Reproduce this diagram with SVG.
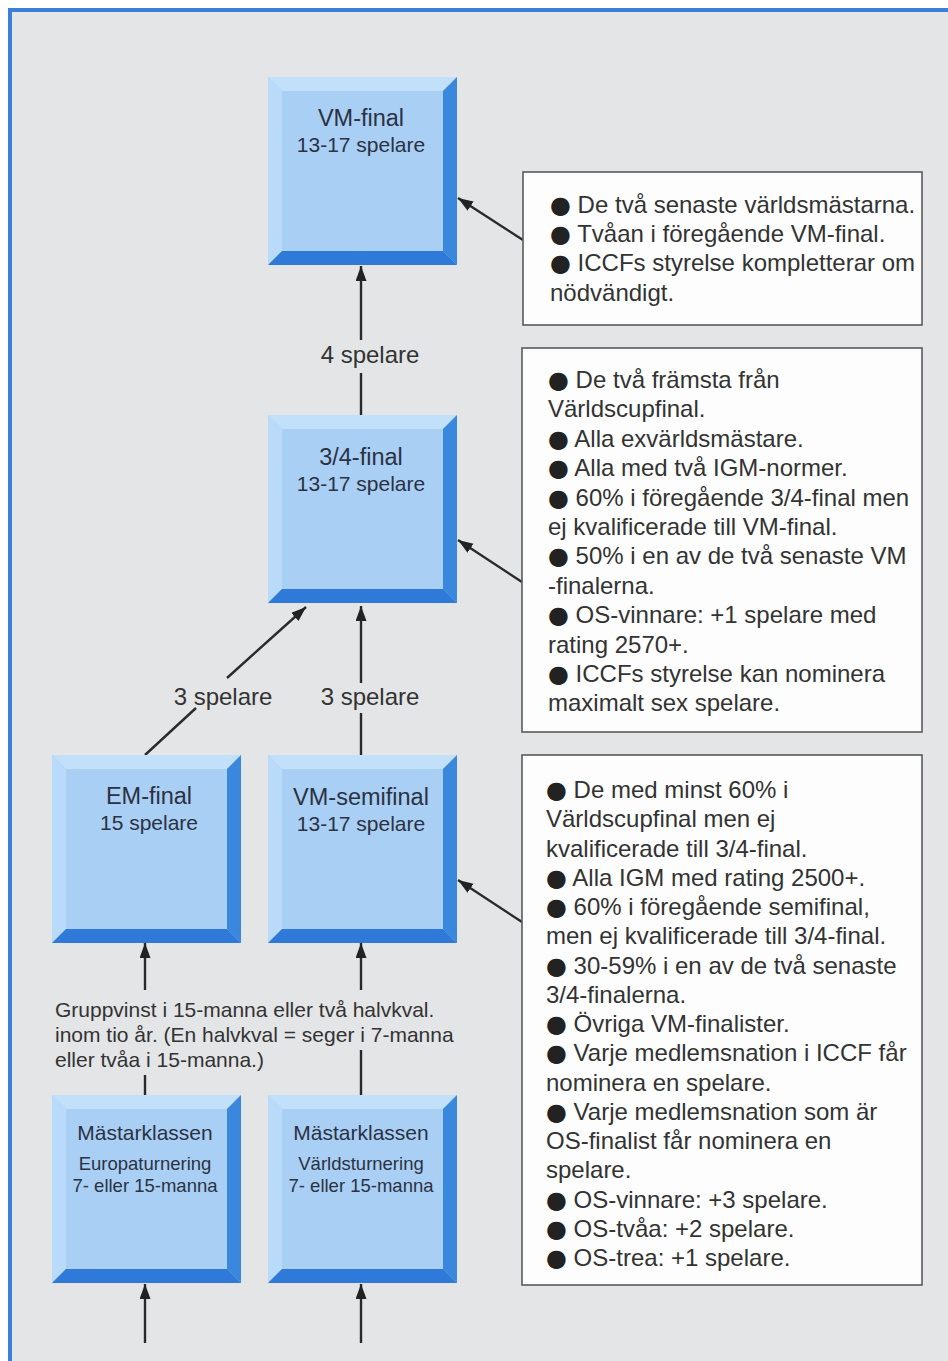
<svg xmlns="http://www.w3.org/2000/svg" xmlns:xlink="http://www.w3.org/1999/xlink" width="948" height="1361" viewBox="0 0 948 1361">
  <defs>
    <style>
      .f { font-family: "Liberation Sans", Arial, sans-serif; }
      .body { font-size: 24px; fill: #333333; }
      .ttl { font-size: 23.5px; fill: #2b3242; text-anchor: middle; }
      .sub { font-size: 21px; fill: #2b3242; text-anchor: middle; }
      .sub2 { font-size: 18.5px; fill: #2b3242; text-anchor: middle; }
      .lbl { font-size: 24px; fill: #333333; }
      .note { font-size: 21px; fill: #333333; }
      .bul { font-family: "DejaVu Sans", sans-serif; font-size: 24px; fill: #222222; }
      .conn { stroke: #2a2a2a; stroke-width: 2.4; fill: none; }
      .tbox { fill: #fdfdfd; stroke: #5a5a5a; stroke-width: 1.6; }
    </style>
    <marker id="ah" markerUnits="userSpaceOnUse" markerWidth="16" markerHeight="12" refX="15" refY="5.5" orient="auto">
      <path d="M0,0 L15,5.5 L0,11 Z" fill="#222222"/>
    </marker>
    <g id="bevel">
      <rect x="0" y="0" width="189" height="188" fill="#a9cff5"/>
      <polygon points="0,0 189,0 175,14 14,14" fill="#c3e0fb"/>
      <polygon points="0,0 14,14 14,174 0,188" fill="#b9daf9"/>
      <polygon points="189,0 189,188 175,174 175,14" fill="#3a87de"/>
      <polygon points="0,188 14,174 175,174 189,188" fill="#2f79d8"/>
    </g>
  </defs>

  <rect x="0" y="0" width="948" height="1361" fill="#ffffff"/>
  <rect x="10" y="10" width="938" height="1351" fill="#e4e5e7"/>
  <path d="M10,1361 V10 H948" stroke="#3b7fd6" stroke-width="4" fill="none"/>

  <g id="connectors">
    <line class="conn" x1="361" y1="340" x2="361" y2="266" marker-end="url(#ah)"/>
    <line class="conn" x1="361" y1="415" x2="361" y2="373"/>
    <line class="conn" x1="361" y1="683" x2="361" y2="606" marker-end="url(#ah)"/>
    <line class="conn" x1="361" y1="755" x2="361" y2="713"/>
    <line class="conn" x1="227" y1="678" x2="306" y2="607" marker-end="url(#ah)"/>
    <line class="conn" x1="145" y1="755" x2="196" y2="708"/>
    <line class="conn" x1="145" y1="990" x2="145" y2="943" marker-end="url(#ah)"/>
    <line class="conn" x1="145" y1="1095" x2="145" y2="1075"/>
    <line class="conn" x1="361" y1="990" x2="361" y2="943" marker-end="url(#ah)"/>
    <line class="conn" x1="361" y1="1095" x2="361" y2="1050"/>
    <line class="conn" x1="145" y1="1343" x2="145" y2="1284" marker-end="url(#ah)"/>
    <line class="conn" x1="361" y1="1343" x2="361" y2="1284" marker-end="url(#ah)"/>
    <line class="conn" x1="523" y1="240" x2="458" y2="198" marker-end="url(#ah)"/>
    <line class="conn" x1="522" y1="582" x2="458" y2="540" marker-end="url(#ah)"/>
    <line class="conn" x1="522" y1="922" x2="458" y2="880" marker-end="url(#ah)"/>
    <text class="f lbl" x="370" y="363" text-anchor="middle">4 spelare</text>
    <text class="f lbl" x="223" y="705" text-anchor="middle">3 spelare</text>
    <text class="f lbl" x="370" y="705" text-anchor="middle">3 spelare</text>
    <text class="f note" x="55" y="1017">Gruppvinst i 15-manna eller två halvkval.</text>
    <text class="f note" x="55" y="1042">inom tio år. (En halvkval = seger i 7-manna</text>
    <text class="f note" x="55" y="1067">eller tvåa i 15-manna.)</text>
  </g>

  <g id="vm-final">
    <use xlink:href="#bevel" x="268" y="77"/>
    <text class="f ttl" x="361" y="126">VM-final</text>
    <text class="f sub" x="361" y="152">13-17 spelare</text>
  </g>
  <g id="tre-fjardedels-final">
    <use xlink:href="#bevel" x="268" y="415"/>
    <text class="f ttl" x="361" y="465">3/4-final</text>
    <text class="f sub" x="361" y="491">13-17 spelare</text>
  </g>
  <g id="em-final">
    <use xlink:href="#bevel" x="52" y="755"/>
    <text class="f ttl" x="149" y="804">EM-final</text>
    <text class="f sub" x="149" y="830">15 spelare</text>
  </g>
  <g id="vm-semifinal">
    <use xlink:href="#bevel" x="268" y="755"/>
    <text class="f ttl" x="361" y="805">VM-semifinal</text>
    <text class="f sub" x="361" y="831">13-17 spelare</text>
  </g>
  <g id="mastarklassen-europa">
    <use xlink:href="#bevel" x="52" y="1095"/>
    <text class="f sub" x="145" y="1140">Mästarklassen</text>
    <text class="f sub2" x="145" y="1170">Europaturnering</text>
    <text class="f sub2" x="145" y="1192">7- eller 15-manna</text>
  </g>
  <g id="mastarklassen-varld">
    <use xlink:href="#bevel" x="268" y="1095"/>
    <text class="f sub" x="361" y="1140">Mästarklassen</text>
    <text class="f sub2" x="361" y="1170">Världsturnering</text>
    <text class="f sub2" x="361" y="1192">7- eller 15-manna</text>
  </g>

  <g id="krav-vm-final">
    <rect class="tbox" x="523" y="172" width="399" height="153"/>
    <text class="f body">
      <tspan x="550" y="213"><tspan class="bul">●</tspan> De två senaste världsmästarna.</tspan>
      <tspan x="550" y="242"><tspan class="bul">●</tspan> Tvåan i föregående VM-final.</tspan>
      <tspan x="550" y="271"><tspan class="bul">●</tspan> ICCFs styrelse kompletterar om</tspan>
      <tspan x="550" y="301">nödvändigt.</tspan>
    </text>
  </g>

  <g id="krav-tre-fjardedels-final">
    <rect class="tbox" x="522" y="348" width="400" height="384"/>
    <text class="f body">
      <tspan x="548" y="388"><tspan class="bul">●</tspan> De två främsta från</tspan>
      <tspan x="548" y="417.4">Världscupfinal.</tspan>
      <tspan x="548" y="446.8"><tspan class="bul">●</tspan> Alla exvärldsmästare.</tspan>
      <tspan x="548" y="476.2"><tspan class="bul">●</tspan> Alla med två IGM-normer.</tspan>
      <tspan x="548" y="505.6"><tspan class="bul">●</tspan> 60% i föregående 3/4-final men</tspan>
      <tspan x="548" y="535">ej kvalificerade till VM-final.</tspan>
      <tspan x="548" y="564.4"><tspan class="bul">●</tspan> 50% i en av de två senaste VM</tspan>
      <tspan x="548" y="593.8">-finalerna.</tspan>
      <tspan x="548" y="623.2"><tspan class="bul">●</tspan> OS-vinnare: +1 spelare med</tspan>
      <tspan x="548" y="652.6">rating 2570+.</tspan>
      <tspan x="548" y="682"><tspan class="bul">●</tspan> ICCFs styrelse kan nominera</tspan>
      <tspan x="548" y="711.4">maximalt sex spelare.</tspan>
    </text>
  </g>

  <g id="krav-vm-semifinal">
    <rect class="tbox" x="522" y="755" width="400" height="530"/>
    <text class="f body">
      <tspan x="546" y="798"><tspan class="bul">●</tspan> De med minst 60% i</tspan>
      <tspan x="546" y="827.25">Världscupfinal men ej</tspan>
      <tspan x="546" y="856.5">kvalificerade till 3/4-final.</tspan>
      <tspan x="546" y="885.75"><tspan class="bul">●</tspan> Alla IGM med rating 2500+.</tspan>
      <tspan x="546" y="915"><tspan class="bul">●</tspan> 60% i föregående semifinal,</tspan>
      <tspan x="546" y="944.25">men ej kvalificerade till 3/4-final.</tspan>
      <tspan x="546" y="973.5"><tspan class="bul">●</tspan> 30-59% i en av de två senaste</tspan>
      <tspan x="546" y="1002.75">3/4-finalerna.</tspan>
      <tspan x="546" y="1032"><tspan class="bul">●</tspan> Övriga VM-finalister.</tspan>
      <tspan x="546" y="1061.25"><tspan class="bul">●</tspan> Varje medlemsnation i ICCF får</tspan>
      <tspan x="546" y="1090.5">nominera en spelare.</tspan>
      <tspan x="546" y="1119.75"><tspan class="bul">●</tspan> Varje medlemsnation som är</tspan>
      <tspan x="546" y="1149">OS-finalist får nominera en</tspan>
      <tspan x="546" y="1178.25">spelare.</tspan>
      <tspan x="546" y="1207.5"><tspan class="bul">●</tspan> OS-vinnare: +3 spelare.</tspan>
      <tspan x="546" y="1236.75"><tspan class="bul">●</tspan> OS-tvåa: +2 spelare.</tspan>
      <tspan x="546" y="1266"><tspan class="bul">●</tspan> OS-trea: +1 spelare.</tspan>
    </text>
  </g>
</svg>
